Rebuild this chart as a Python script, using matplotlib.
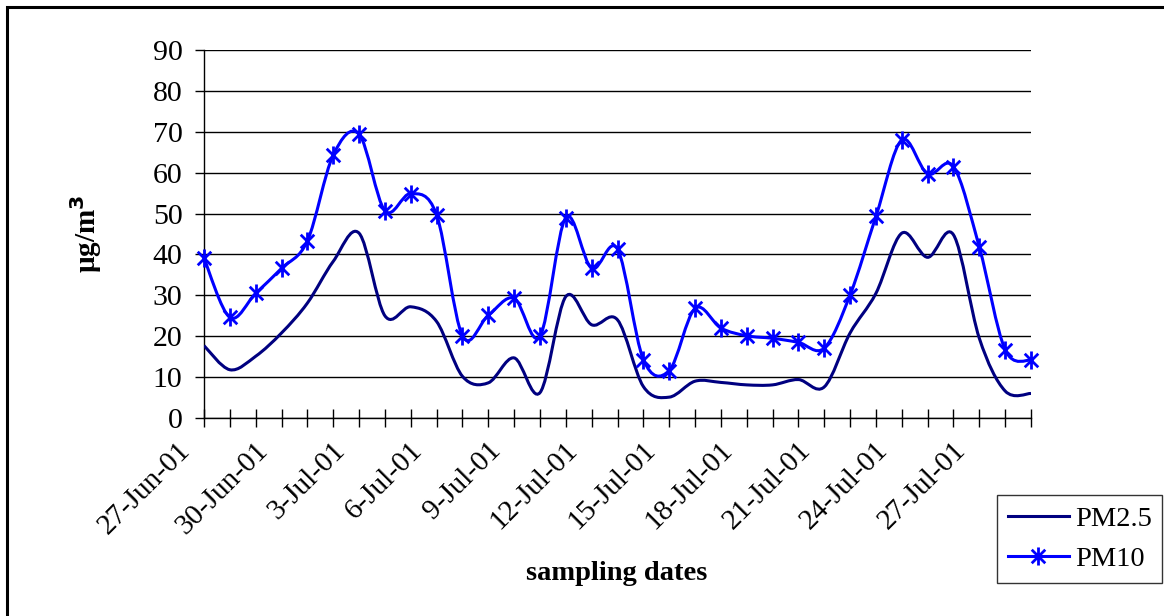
import matplotlib
matplotlib.use("Agg")
import matplotlib.pyplot as plt
from matplotlib.path import Path
from matplotlib.patches import PathPatch, Rectangle
from matplotlib.lines import Line2D
from matplotlib.transforms import ScaledTranslation
import numpy as np

# ---- data ----
dates = ["27-Jun-01", "28-Jun-01", "29-Jun-01", "30-Jun-01", "1-Jul-01", "2-Jul-01",
         "3-Jul-01", "4-Jul-01", "5-Jul-01", "6-Jul-01", "7-Jul-01", "8-Jul-01",
         "9-Jul-01", "10-Jul-01", "11-Jul-01", "12-Jul-01", "13-Jul-01", "14-Jul-01",
         "15-Jul-01", "16-Jul-01", "17-Jul-01", "18-Jul-01", "19-Jul-01", "20-Jul-01",
         "21-Jul-01", "22-Jul-01", "23-Jul-01", "24-Jul-01", "25-Jul-01", "26-Jul-01",
         "27-Jul-01", "28-Jul-01", "29-Jul-01"]
pm25 = [17.7, 11.8, 15.1, 20.8, 28.1, 38.3, 45.2, 25.0, 27.2, 23.6, 10.2, 8.6,
        14.7, 6.2, 29.7, 22.8, 24.0, 7.7, 5.1, 9.0, 8.7, 8.1, 8.1, 9.4,
        7.6, 20.8, 30.5, 45.2, 39.3, 44.8, 19.5, 6.6, 6.0]
pm10 = [39.1, 24.6, 30.5, 36.6, 43.3, 64.3, 69.4, 50.7, 54.9, 49.7, 20.1, 25.1,
        29.3, 20.0, 49.0, 36.6, 41.3, 14.3, 11.6, 26.8, 22.0, 20.1, 19.5, 18.5,
        17.1, 30.1, 49.3, 68.0, 59.7, 61.5, 41.8, 16.7, 14.1]
tick_labels = dates[::3]
yticks = [0, 10, 20, 30, 40, 50, 60, 70, 80, 90]

plt.rcParams['font.family'] = ['Liberation Serif', 'DejaVu Serif']

W, H = 1164, 616
fig = plt.figure(figsize=(W / 100, H / 100), dpi=100)
ax = fig.add_axes([204 / W, (H - 418) / H, (1031 - 204) / W, (418 - 50) / H])

x = np.arange(len(dates))


def smooth_path(xs, ys):
    pts = np.column_stack([xs, ys]).astype(float)
    n = len(pts)
    verts = [pts[0]]
    codes = [Path.MOVETO]
    for i in range(n - 1):
        p0 = pts[i - 1] if i > 0 else pts[i]
        p1 = pts[i]
        p2 = pts[i + 1]
        p3 = pts[i + 2] if i + 2 < n else pts[i + 1]
        c1 = p1 + (p2 - p0) / 6.0
        c2 = p2 - (p3 - p1) / 6.0
        verts += [c1, c2, p2]
        codes += [Path.CURVE4] * 3
    return Path(np.array(verts), codes)


c25 = '#000080'
c10 = '#0000FF'
ax.add_patch(PathPatch(smooth_path(x, pm25), fill=False, ec=c25, lw=2.2, zorder=3))
ax.add_patch(PathPatch(smooth_path(x, pm10), fill=False, ec=c10, lw=2.2, zorder=3))

star = Path([(0, -1), (0, 1), (-0.75, -0.75), (0.75, 0.75), (-0.75, 0.75), (0.75, -0.75)],
            [Path.MOVETO, Path.LINETO, Path.MOVETO, Path.LINETO, Path.MOVETO, Path.LINETO])
ax.plot(x, pm10, linestyle='none', marker=star, markersize=13, mec=c10,
        mew=2.0, mfc='none', zorder=4, clip_on=False)

ax.set_xlim(0, len(dates) - 1)
ax.set_ylim(0, 90)
ax.set_yticks(yticks)
ax.set_xticks(x[::3])
ax.set_xticklabels([''] * len(tick_labels))
ax.set_xticks(x, minor=True)
ax.tick_params(axis='x', which='both', direction='inout', length=12.5, width=1,
               colors='black', pad=0)
ax.tick_params(axis='y', direction='out', length=6.5, width=1, labelsize=21.5, pad=9)

off = ScaledTranslation(-27 / 100, -19 / 100, fig.dpi_scale_trans)
for xi, lab in zip(x[::3], tick_labels):
    ax.text(xi, 0, lab, transform=ax.get_xaxis_transform() + off, rotation=45,
            rotation_mode='anchor', ha='right', va='top', fontsize=21, clip_on=False)

ax.grid(axis='y', color='black', lw=1.0)
ax.set_axisbelow(True)
for s in ['top', 'right']:
    ax.spines[s].set_visible(False)
for s in ['left', 'bottom']:
    ax.spines[s].set_linewidth(1.0)

fig.text(617 / W, 1 - 574 / H, 'sampling dates', ha='center', va='center',
         fontsize=20.5, fontweight='bold')
fig.text(86 / W, 1 - 234 / H, 'µg/m$^\\mathbf{3}$', ha='center', va='center',
         rotation=90, fontsize=21, fontweight='bold')

handles = [Line2D([], [], color=c25, lw=2.2),
           Line2D([], [], color=c10, lw=2.2, marker=star, markersize=13, mew=2.0)]
leg = fig.legend(handles, ['PM2.5', 'PM10'], loc='upper left',
                 bbox_to_anchor=(997 / W, 1 - 495 / H), fontsize=20.5, frameon=True,
                 fancybox=False, edgecolor='black', handlelength=2.15, handletextpad=0.2,
                 borderpad=0.38, labelspacing=0.5, borderaxespad=0)
leg.get_frame().set_linewidth(1.0)

fig.patches.append(Rectangle((7 / W, -0.1), 1.2, 1.1 - 7 / H, transform=fig.transFigure,
                             fill=False, ec='black', lw=2.2))

fig.savefig('out.png', dpi=100)
